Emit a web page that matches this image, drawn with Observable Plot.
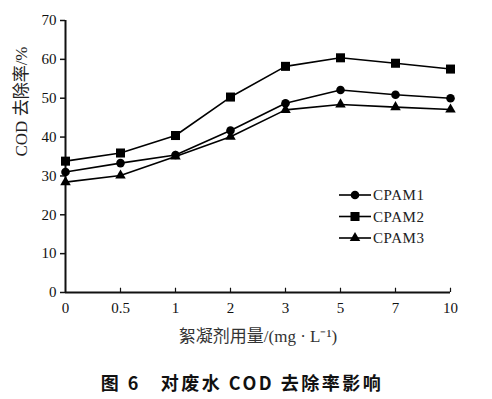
<!DOCTYPE html>
<html>
<head>
<meta charset="utf-8">
<script src="https://cdn.jsdelivr.net/npm/d3@7"></script>
<script src="https://cdn.jsdelivr.net/npm/@observablehq/plot@0.6"></script>
<style>
  body { margin: 0; background: #fff; }
  #wrap { position: relative; width: 492px; }
  #caption { font-family: 'Noto Sans CJK SC', 'Liberation Serif', serif; font-weight: bold; font-size: 18px; letter-spacing: 2.5px; text-align: center; line-height: 20px; margin-top: 22px; color: #111; padding-right: 8px; }
</style>
</head>
<body>
<div id="wrap"></div>
<div id="caption">图 6&nbsp;&nbsp;&nbsp;对废水 COD 去除率影响</div>
<script>
const xCats = ["0", "0.5", "1", "2", "3", "5", "7", "10"];
const cpam1 = [31.0, 33.3, 35.4, 41.7, 48.7, 52.1, 50.9, 50.0];
const cpam2 = [33.8, 35.9, 40.4, 50.3, 58.2, 60.4, 59.0, 57.5];
const cpam3 = [28.4, 30.1, 35.0, 40.1, 47.0, 48.4, 47.7, 47.1];
const seriesNames = ["CPAM1", "CPAM2", "CPAM3"];
const seriesSymbols = ["circle", "square", "triangle"];
const seriesR = [4.3, 5.1, 3.9];
const yTicks = [0, 10, 20, 30, 40, 50, 60, 70];
const xLabel = "絮凝剂用量/(mg · L⁻¹)";
const yLabel = "COD 去除率/%";

const seriesValues = [cpam1, cpam2, cpam3];
const data = seriesNames.flatMap((name, i) =>
  xCats.map((x, j) => ({series: name, x, y: seriesValues[i][j]})));

const font = "'Liberation Serif', 'Noto Sans CJK SC', serif";

const marks = [
  Plot.axisY({ticks: yTicks, tickSize: 5, tickPadding: 4, label: null, fontSize: 15, strokeWidth: 1.5}),
  Plot.axisX({tickSize: 0, tickPadding: 10, label: null, fontSize: 15}),
  Plot.ruleX(xCats.slice(1), {x: d => d, y1: 0, y2: 1.1, strokeWidth: 1.2}),
  Plot.ruleY([0], {strokeWidth: 2}),
  Plot.ruleX([xCats[0]], {y1: 0, y2: 70, strokeWidth: 2}),
  Plot.text([yLabel], {frameAnchor: "left", dx: -44, rotate: -90, fontSize: 17, fill: "#222"}),
  Plot.text([xLabel], {frameAnchor: "bottom", dy: 49, fontSize: 17, fill: "#333"})
];
seriesNames.forEach((name, i) => {
  const d = data.filter(e => e.series === name);
  marks.push(Plot.line(d, {x: "x", y: "y", stroke: "#000", strokeWidth: 1.6}));
  marks.push(Plot.dot(d, {x: "x", y: "y", symbol: () => seriesSymbols[i], r: seriesR[i], fill: "#000", stroke: "none"}));
});

const chart = Plot.plot({
  width: 492,
  height: 350,
  marginTop: 20,
  marginBottom: 58,
  marginLeft: 65,
  marginRight: 42,
  style: {fontFamily: font, fontSize: "15px", color: "#111", background: "#fff"},
  x: {type: "point", domain: xCats, padding: 0},
  y: {domain: [0, 70]},
  symbol: {type: "identity"},
  marks
});
document.getElementById("wrap").appendChild(chart);

// legend inside plot area
const svg = d3.select(chart);
const leg = svg.append("g").attr("font-family", font).attr("font-size", 15).attr("text-anchor", "start");
const d3sym = {circle: d3.symbolCircle, square: d3.symbolSquare, triangle: d3.symbolTriangle};
seriesNames.forEach((name, i) => {
  const yy = 195 + i * 21.5;
  const g = leg.append("g").attr("transform", `translate(0,${yy})`);
  g.append("line").attr("x1", 339).attr("x2", 371).attr("y1", 0).attr("y2", 0).attr("stroke", "#000").attr("stroke-width", 1.6);
  g.append("path").attr("transform", "translate(355,0)")
    .attr("d", d3.symbol(d3sym[seriesSymbols[i]], Math.PI * seriesR[i] * seriesR[i])()).attr("fill", "#000");
  g.append("text").attr("x", 373).attr("y", 0).attr("dy", "0.35em").attr("text-anchor", "start")
    .attr("letter-spacing", "0.6px").attr("fill", "#222").text(name);
});
</script>
</body>
</html>
